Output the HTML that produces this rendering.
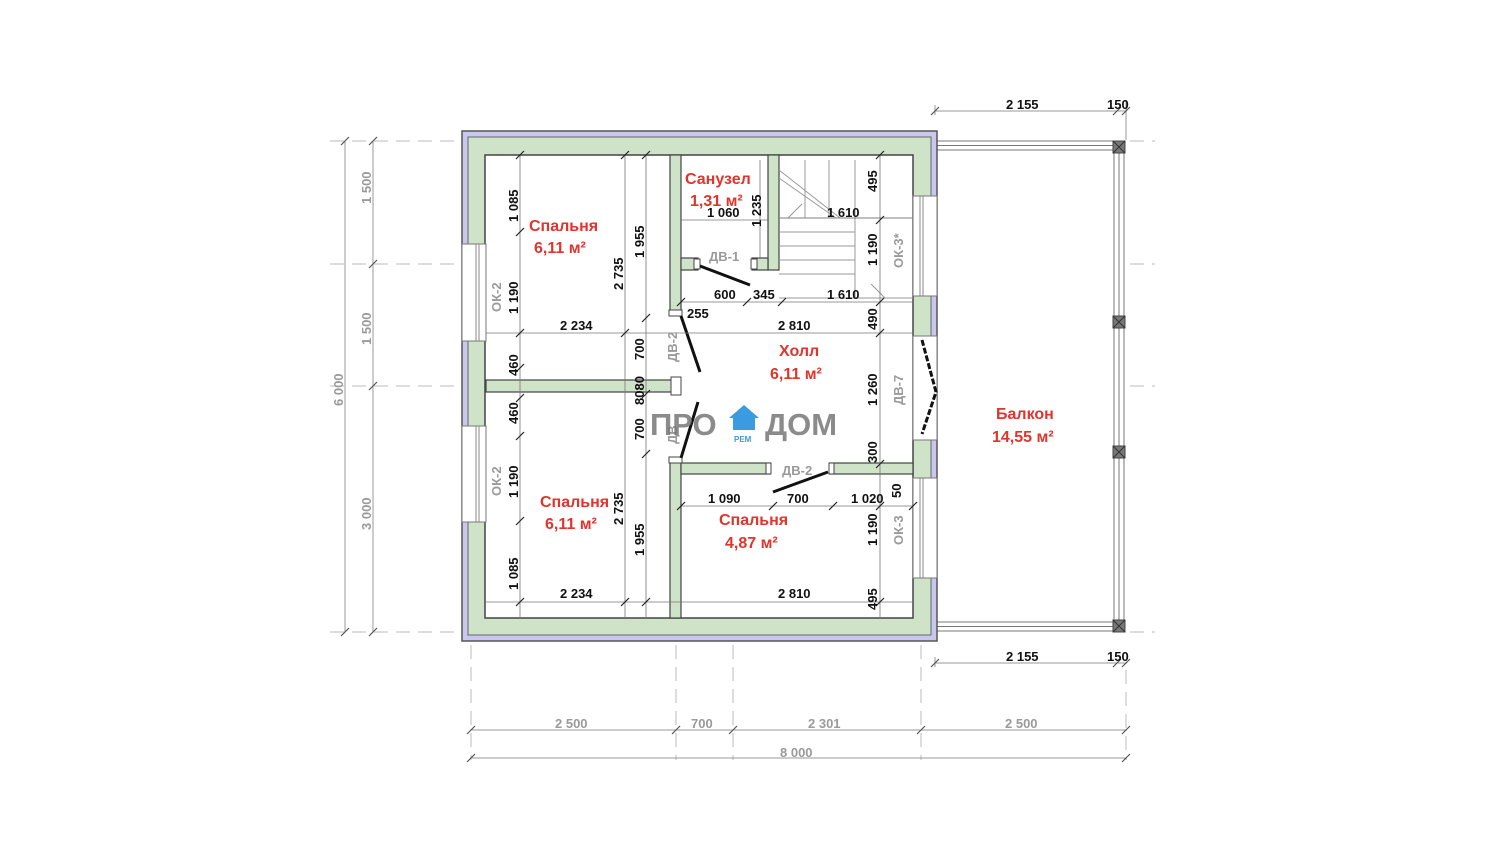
<!DOCTYPE html>
<html><head><meta charset="utf-8"><style>
body{margin:0;background:#fff}
svg{display:block}
text{font-family:"Liberation Sans",sans-serif;font-weight:bold}
.d{font-size:13px;fill:#111}
.r{font-size:16px;fill:#e0342c}
.g{font-size:13px;fill:#9a9a9a}
</style></head><body>
<svg width="1500" height="849" viewBox="0 0 1500 849" xmlns="http://www.w3.org/2000/svg">
<g stroke="#bbb" stroke-width="1" stroke-dasharray="14,8" fill="none">
<line x1="330" y1="141" x2="460" y2="141"/><line x1="330" y1="264" x2="460" y2="264"/>
<line x1="330" y1="386" x2="460" y2="386"/><line x1="330" y1="632" x2="460" y2="632"/>
<line x1="1130" y1="141" x2="1155" y2="141"/><line x1="1130" y1="264" x2="1155" y2="264"/>
<line x1="1130" y1="386" x2="1155" y2="386"/><line x1="1130" y1="632" x2="1155" y2="632"/>
<line x1="471" y1="645" x2="471" y2="760"/><line x1="676" y1="645" x2="676" y2="760"/>
<line x1="733" y1="645" x2="733" y2="760"/><line x1="921" y1="645" x2="921" y2="760"/>
<line x1="1126" y1="670" x2="1126" y2="760"/>
</g>
<g stroke="#999" stroke-width="1">
<line x1="345" y1="141" x2="345" y2="632"/><line x1="373" y1="141" x2="373" y2="632"/>
<line x1="470" y1="730" x2="1127" y2="730"/><line x1="470" y1="758" x2="1127" y2="758"/>
<line x1="935" y1="111" x2="1127" y2="111"/><line x1="935" y1="663" x2="1127" y2="663"/>
<line x1="935" y1="105" x2="935" y2="115"/><line x1="935" y1="657" x2="935" y2="667"/>
<line x1="1126" y1="100" x2="1126" y2="140"/>
</g>
<g stroke="#555" stroke-width="1.2">
<path d="M341 145l8-8M341 636l8-8M369 145l8-8M369 268l8-8M369 390l8-8M369 636l8-8"/>
<path d="M467 734l8-8M672 734l8-8M729 734l8-8M917 734l8-8M1122 734l8-8M467 762l8-8M1122 762l8-8"/>
<path d="M931 115l8-8M1113 115l8-8M1122 115l8-8M931 667l8-8M1113 667l8-8M1122 667l8-8"/>
</g>
<g class="g">
<text transform="translate(371,204) rotate(-90)">1 500</text>
<text transform="translate(371,345) rotate(-90)">1 500</text>
<text transform="translate(371,530) rotate(-90)">3 000</text>
<text transform="translate(343,406) rotate(-90)">6 000</text>
<text x="555" y="728">2 500</text><text x="691" y="728">700</text>
<text x="808" y="728">2 301</text><text x="1005" y="728">2 500</text>
<text x="780" y="757">8 000</text>
</g>
<text class="d" x="1006" y="109">2 155</text><text class="d" x="1107" y="109">150</text>
<text class="d" x="1006" y="661">2 155</text><text class="d" x="1107" y="661">150</text>

<g fill="none" stroke="#777" stroke-width="1">
<rect x="937" y="141" width="183" height="9" fill="#fff"/>
<rect x="937" y="622" width="183" height="9" fill="#fff"/>
<rect x="1114" y="141" width="10" height="490" fill="#fff"/>
<line x1="937" y1="145.5" x2="1120" y2="145.5"/><line x1="937" y1="626.5" x2="1120" y2="626.5"/>
<line x1="1119" y1="141" x2="1119" y2="631"/>
</g>
<g fill="#777" stroke="#444">
<rect x="1113" y="141" width="12" height="12"/><rect x="1113" y="316" width="12" height="12"/>
<rect x="1113" y="446" width="12" height="12"/><rect x="1113" y="620" width="12" height="12"/>
</g>
<g stroke="#333" stroke-width="1"><path d="M1113 141l12 12M1125 141l-12 12M1113 316l12 12M1125 316l-12 12M1113 446l12 12M1125 446l-12 12M1113 620l12 12M1125 620l-12 12"/></g>

<rect x="462" y="131" width="475" height="510" fill="#c8c8ee" stroke="#555" stroke-width="1.5"/>
<rect x="468" y="137" width="463" height="498" fill="#cfe3c9" stroke="#666" stroke-width="1"/>
<rect x="485" y="155" width="428" height="463" fill="#fff" stroke="#444" stroke-width="1.5"/>
<g fill="#fff" stroke="#777">
<rect x="462" y="244" width="24" height="97"/><rect x="462" y="426" width="24" height="96"/>
<rect x="913" y="196" width="24" height="100"/><rect x="913" y="336" width="24" height="104"/>
<rect x="913" y="478" width="24" height="100"/>
</g>
<g stroke="#888" stroke-width="1">
<line x1="476" y1="244" x2="476" y2="341"/><line x1="479" y1="244" x2="479" y2="341"/>
<line x1="476" y1="426" x2="476" y2="522"/><line x1="479" y1="426" x2="479" y2="522"/>
<line x1="920" y1="196" x2="920" y2="296"/><line x1="923" y1="196" x2="923" y2="296"/>
<line x1="920" y1="478" x2="920" y2="578"/><line x1="923" y1="478" x2="923" y2="578"/>
</g>
<path d="M922 340l14 52-14 42" stroke="#111" stroke-width="3" fill="none" stroke-dasharray="6,2"/>

<g fill="#cfe3c9" stroke="#444" stroke-width="1.2">
<rect x="670" y="155" width="11" height="158"/>
<rect x="768" y="155" width="11" height="115"/>
<rect x="681" y="258" width="17" height="12"/><rect x="752" y="258" width="16" height="12"/>
<rect x="486" y="380" width="188" height="12"/>
<rect x="670" y="460" width="11" height="158"/>
<rect x="681" y="463" width="89" height="11"/>
<rect x="830" y="463" width="83" height="11"/>
</g>
<g fill="#fff" stroke="#444"><rect x="669" y="310" width="13" height="6"/><rect x="669" y="457" width="13" height="6"/>
<rect x="694" y="259" width="6" height="10"/><rect x="751" y="259" width="6" height="10"/>
<rect x="671" y="377" width="10" height="18"/><rect x="766" y="463" width="5" height="11"/><rect x="829" y="463" width="5" height="11"/></g>
<g stroke="#111" stroke-width="3"><line x1="700" y1="266" x2="750" y2="285"/><line x1="681" y1="316" x2="700" y2="372"/>
<line x1="681" y1="458" x2="698" y2="402"/><line x1="773" y1="492" x2="828" y2="472"/></g>

<g stroke="#999" stroke-width="1" fill="none">
<line x1="779" y1="218" x2="913" y2="218"/><line x1="779" y1="298" x2="913" y2="298"/>
<line x1="779" y1="232" x2="855" y2="232"/><line x1="779" y1="246" x2="855" y2="246"/><line x1="779" y1="260" x2="855" y2="260"/><line x1="779" y1="274" x2="855" y2="274"/>
<line x1="855" y1="160" x2="855" y2="298"/><line x1="829" y1="160" x2="829" y2="218"/><line x1="805" y1="160" x2="805" y2="218"/>
<line x1="779" y1="170" x2="840" y2="218"/><line x1="779" y1="178" x2="836" y2="218"/>
<path d="M788 218l14-14M885 298l-14-14"/>
</g>
<g stroke="#777" stroke-width="0.8">
<line x1="486" y1="333" x2="913" y2="333"/><line x1="486" y1="602" x2="913" y2="602"/>
<line x1="681" y1="302" x2="913" y2="302"/><line x1="681" y1="220" x2="768" y2="220"/>
<line x1="681" y1="506" x2="913" y2="506"/><line x1="779" y1="218" x2="913" y2="218"/>
<line x1="520" y1="155" x2="520" y2="618"/><line x1="625" y1="155" x2="625" y2="618"/><line x1="646" y1="155" x2="646" y2="618"/>
<line x1="880" y1="155" x2="880" y2="618"/><line x1="760" y1="160" x2="760" y2="258"/>
</g>
<g stroke="#222" stroke-width="1.2">
<path d="M516 159l8-8M516 236l8-8M516 337l8-8M516 372l8-8M516 402l8-8M516 440l8-8M516 525l8-8M516 606l8-8"/>
<path d="M621 159l8-8M621 337l8-8M621 606l8-8M642 159l8-8M642 322l8-8M642 398l8-8M642 458l8-8M642 606l8-8"/>
<path d="M876 159l8-8M876 224l8-8M876 306l8-8M876 337l8-8M876 468l8-8M876 510l8-8M876 606l8-8"/>
<path d="M677 306l8-8M743 306l8-8M778 306l8-8M677 510l8-8M769 510l8-8M829 510l8-8M909 510l8-8"/>
</g>
<g class="d">
<text transform="translate(518,222) rotate(-90)">1 085</text>
<text transform="translate(518,314) rotate(-90)">1 190</text>
<text transform="translate(518,376) rotate(-90)">460</text>
<text transform="translate(518,424) rotate(-90)">460</text>
<text transform="translate(518,498) rotate(-90)">1 190</text>
<text transform="translate(518,590) rotate(-90)">1 085</text>
<text transform="translate(623,290) rotate(-90)">2 735</text>
<text transform="translate(623,525) rotate(-90)">2 735</text>
<text transform="translate(644,258) rotate(-90)">1 955</text>
<text transform="translate(644,556) rotate(-90)">1 955</text>
<text transform="translate(644,360) rotate(-90)">700</text>
<text transform="translate(644,405) rotate(-90)">8080</text>
<text transform="translate(644,440) rotate(-90)">700</text>
<text transform="translate(877,192) rotate(-90)">495</text>
<text transform="translate(877,266) rotate(-90)">1 190</text>
<text transform="translate(877,330) rotate(-90)">490</text>
<text transform="translate(877,406) rotate(-90)">1 260</text>
<text transform="translate(877,463) rotate(-90)">300</text>
<text transform="translate(901,498) rotate(-90)">50</text>
<text transform="translate(877,546) rotate(-90)">1 190</text>
<text transform="translate(877,610) rotate(-90)">495</text>
<text transform="translate(761,227) rotate(-90)">1 235</text>
<text x="560" y="330">2 234</text><text x="560" y="598">2 234</text>
<text x="778" y="330">2 810</text><text x="778" y="598">2 810</text>
<text x="707" y="217">1 060</text><text x="827" y="217">1 610</text>
<text x="714" y="299">600</text><text x="753" y="299">345</text><text x="827" y="299">1 610</text>
<text x="687" y="318">255</text>
<text x="708" y="503">1 090</text><text x="787" y="503">700</text><text x="851" y="503">1 020</text>
</g>
<g class="g">
<text transform="translate(501,312) rotate(-90)">ОК-2</text>
<text transform="translate(501,496) rotate(-90)">ОК-2</text>
<text transform="translate(903,268) rotate(-90)">ОК-3*</text>
<text transform="translate(903,545) rotate(-90)">ОК-3</text>
<text transform="translate(903,405) rotate(-90)">ДВ-7</text>
<text transform="translate(677,362) rotate(-90)">ДВ-2</text>
<text transform="translate(677,444) rotate(-90)">ДВ</text>
<text x="709" y="261">ДВ-1</text><text x="782" y="475">ДВ-2</text>
</g>
<g class="r">
<text x="529" y="231">Спальня</text><text x="534" y="253">6,11 м²</text>
<text x="685" y="184">Санузел</text><text x="690" y="206">1,31 м²</text>
<text x="779" y="356">Холл</text><text x="770" y="379">6,11 м²</text>
<text x="540" y="507">Спальня</text><text x="545" y="529">6,11 м²</text>
<text x="719" y="525">Спальня</text><text x="725" y="548">4,87 м²</text>
<text x="996" y="419">Балкон</text><text x="992" y="442">14,55 м²</text>
</g>
<text x="650" y="435" style="font-size:31px;fill:#777;opacity:.85">ПРО</text>
<text x="765" y="435" style="font-size:31px;fill:#777;opacity:.85">ДОМ</text>
<path d="M744 405l-15 13h4v12h22v-12h4z" fill="#3a9be0"/>
<text x="734" y="442" style="font-size:8px;fill:#3a9be0">РЕМ</text>
</svg>
</body></html>
